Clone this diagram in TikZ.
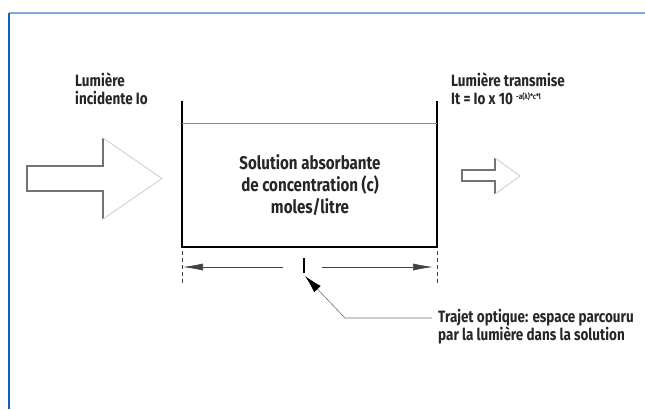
\documentclass[tikz,border=0pt]{standalone}
\usepackage{fontspec}
\setmainfont{Fira Sans}[FakeStretch=0.82]
\usetikzlibrary{arrows.meta, positioning}
\definecolor{frameBlue}{RGB}{12,96,190}
\definecolor{frameTop}{RGB}{125,170,218}

\begin{document}
\begin{tikzpicture}[
    x=1bp, y=-1bp,
    >={Latex[length=20bp,width=7bp]},
    lbl/.style={font=\bfseries\fontsize{16.5}{18}\selectfont, align=left, inner sep=0pt, anchor=west, text=black!85},
    bodytext/.style={font=\bfseries\fontsize{18.5}{22.5}\selectfont, align=center, inner sep=0pt, text=black!85},
    shaft/.style={draw=black!55, line width=1.1bp},
    head/.style={draw=black!18, line width=0.9bp},
    wall/.style={line width=1.7bp, black},
    dim/.style={draw=black!75, line width=0.6bp}
]
\useasboundingbox (0,0) rectangle (645,409);

% frame
\draw[frameTop, line width=1.4bp] (9,13) -- (645,13);
\draw[frameBlue, line width=1.2bp] (9,13) -- (9,409);

% incoming light
\draw[shaft] (103,138) -- (103,166) -- (27,166) -- (27,191) -- (103,191) -- (103,219);
\draw[head] (103,138) -- (162,178.5) -- (103,219);
\node[lbl] (lumin) at (75,89) {Lumière\\incidente Io};

% transmitted light
\draw[shaft] (495,158) -- (495,170) -- (462,170) -- (462,181) -- (495,181) -- (495,194);
\draw[head] (495,158) -- (520,176) -- (495,194);
\node[lbl] (lumout) at (451,89) {Lumière transmise\\It = Io x 10 \raisebox{0.6ex}{\fontsize{8}{9}\selectfont -a(λ)*c*l}};

% cell
\draw[wall] (182,101) -- (182,247) -- (437,247) -- (437,101);
\draw[black!45, line width=0.6bp] (182,123) -- (437,123);
\node[bodytext] (solution) at (310,185) {Solution absorbante\\de concentration (c)\\moles/litre};

% optical path
\draw[dim, dash pattern=on 4bp off 3bp] (182,251) -- (182,284);
\draw[dim, dash pattern=on 4bp off 3bp] (437,251) -- (437,284);
\coordinate (midL) at (283,267);
\coordinate (midR) at (322,267);
\coordinate (endL) at (183,267);
\coordinate (endR) at (433,267);
\draw[dim, ->] (midL) -- (endL);
\draw[dim, ->] (midR) -- (endR);
\draw[line width=1.1bp] (304,258) -- (304,273);

\coordinate (tick) at (305,276);
\coordinate (bend) at (345,318);
\node[lbl] (trajet) at (438,327) {Trajet optique: espace parcouru\\par la lumière dans la solution};
\draw[black!55, line width=0.6bp, shorten >=6bp, {Latex[length=18bp,width=9bp,black]}-] (tick) -- (bend) -- (bend -| trajet.west);
\end{tikzpicture}
\end{document}
